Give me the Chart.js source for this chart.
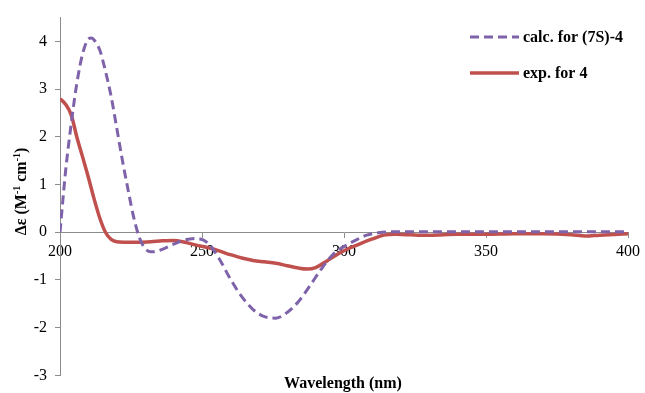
<!DOCTYPE html>
<html>
<head>
<meta charset="utf-8">
<script src="https://cdn.jsdelivr.net/npm/chart.js@4/dist/chart.umd.min.js"></script>
<style>
html,body{margin:0;padding:0;background:#fff;}
#wrap{width:645px;height:393px;position:relative;}
</style>
</head>
<body>
<div id="wrap"><canvas id="c" width="645" height="393"></canvas></div>
<script>
// Wavelengths (nm) and Δε values
const calcWavelength = [200,202,204,206,208,210,211,212,214,216,218,220,222,224,226,228,230,232,234,236,240,244,248,252,256,260,264,268,272,276,280,284,288,292,296,300,304,308,312,316,320,330,340,350,360,370,380,390,400];
const calcDelta = [0,1.3,2.3,3.15,3.75,4.05,4.07,4.03,3.82,3.38,2.85,2.18,1.5,0.88,0.3,-0.12,-0.34,-0.41,-0.4,-0.36,-0.25,-0.16,-0.13,-0.22,-0.55,-0.98,-1.35,-1.62,-1.77,-1.8,-1.68,-1.45,-1.12,-0.77,-0.47,-0.3,-0.17,-0.06,-0.01,0.01,0.01,0.01,0.01,0.01,0.01,0.01,0.01,0.01,0.01];
const expWavelength = [200,202,204,206,208,210,212,214,216,218,220,224,228,232,236,240,244,248,252,256,260,264,268,272,276,280,284,287,290,294,298,302,306,310,314,318,322,326,330,340,350,360,370,380,385,390,400];
const expDelta = [2.8,2.68,2.45,1.98,1.57,1.15,0.7,0.3,0.0,-0.15,-0.2,-0.21,-0.21,-0.2,-0.18,-0.17,-0.21,-0.27,-0.32,-0.39,-0.47,-0.54,-0.59,-0.62,-0.65,-0.7,-0.75,-0.77,-0.74,-0.6,-0.45,-0.33,-0.23,-0.14,-0.06,-0.04,-0.05,-0.06,-0.06,-0.04,-0.04,-0.03,-0.03,-0.05,-0.08,-0.06,-0.03];
const seriesLabels = ["calc. for (7S)-4", "exp. for 4"];
const xTitle = "Wavelength (nm)";
const xTicks = [200,250,300,350,400];
const yTicks = [-3,-2,-1,0,1,2,3,4];

const PURPLE = '#7F63AA';
const RED = '#C0504D';
const AXIS = '#8C8C8C';
const SERIF = '"Liberation Serif", "Times New Roman", serif';

const toPts = (xs, ys) => xs.map((x, i) => ({x: x, y: ys[i]}));

const extras = {
  id: 'extras',
  afterDraw(chart) {
    const ctx = chart.ctx;
    const ca = chart.chartArea;
    ctx.save();
    // x axis title
    ctx.font = 'bold 16px ' + SERIF;
    ctx.fillStyle = '#000';
    ctx.textAlign = 'center';
    ctx.textBaseline = 'alphabetic';
    ctx.fillText(xTitle, (ca.left + ca.right) / 2 - 1, 388);
    // y axis title with superscripts
    ctx.translate(26, (ca.top + ca.bottom) / 2 - 5);
    ctx.rotate(-Math.PI / 2);
    const parts = [
      ['Δε (M', 16, 0], ['-1', 10, -6], [' cm', 16, 0], ['-1', 10, -6], [')', 16, 0]
    ];
    let total = 0;
    parts.forEach(p => { ctx.font = 'bold ' + p[1] + 'px ' + SERIF; total += ctx.measureText(p[0]).width; });
    let x = -total / 2;
    ctx.textAlign = 'left';
    parts.forEach(p => {
      ctx.font = 'bold ' + p[1] + 'px ' + SERIF;
      ctx.fillText(p[0], x, p[2]);
      x += ctx.measureText(p[0]).width;
    });
    ctx.restore();
    // legend
    ctx.save();
    const ds = chart.data.datasets;
    const rows = [37, 73];
    ds.forEach((d, i) => {
      ctx.beginPath();
      ctx.strokeStyle = d.borderColor;
      ctx.lineWidth = d.borderWidth;
      ctx.setLineDash(d.borderDash || []);
      ctx.moveTo(470, rows[i]);
      ctx.lineTo(519, rows[i]);
      ctx.stroke();
      ctx.setLineDash([]);
      ctx.font = 'bold 16px ' + SERIF;
      ctx.fillStyle = '#000';
      ctx.textAlign = 'left';
      ctx.textBaseline = 'middle';
      ctx.fillText(d.label, 523, rows[i] + 1);
    });
    ctx.restore();
  }
};

new Chart(document.getElementById('c'), {
  type: 'line',
  data: {
    datasets: [
      {
        label: seriesLabels[0],
        data: toPts(calcWavelength, calcDelta),
        borderColor: PURPLE,
        borderWidth: 3,
        borderDash: [9, 5],
        pointRadius: 0,
        cubicInterpolationMode: 'monotone',
        fill: false
      },
      {
        label: seriesLabels[1],
        data: toPts(expWavelength, expDelta),
        borderColor: RED,
        borderWidth: 3.5,
        pointRadius: 0,
        cubicInterpolationMode: 'monotone',
        fill: false
      }
    ]
  },
  options: {
    responsive: false,
    animation: false,
    events: [],
    layout: { padding: { left: 0, right: 13, top: 13, bottom: 16 } },
    plugins: { legend: { display: false }, tooltip: { enabled: false }, title: { display: false } },
    scales: {
      x: {
        type: 'linear',
        position: { y: 0 },
        min: 200, max: 400,
        afterBuildTicks: (s) => { s.ticks = xTicks.map(v => ({value: v})); },
        ticks: { font: { family: SERIF, size: 16 }, color: '#000', padding: 5, maxRotation: 0, autoSkip: false },
        grid: { display: true, drawOnChartArea: false, drawTicks: true, tickLength: 5, color: AXIS },
        border: { display: true, color: AXIS, width: 1 }
      },
      y: {
        type: 'linear',
        position: 'left',
        min: -3, max: 4.5,
        afterBuildTicks: (s) => { s.ticks = yTicks.map(v => ({value: v})); },
        afterFit: (s) => { s.width = 60; },
        ticks: { font: { family: SERIF, size: 16 }, color: '#000', padding: 8 },
        grid: { display: true, drawOnChartArea: false, drawTicks: true, tickLength: 5, color: AXIS },
        border: { display: true, color: AXIS, width: 1 }
      }
    }
  },
  plugins: [extras]
});
</script>
</body>
</html>
